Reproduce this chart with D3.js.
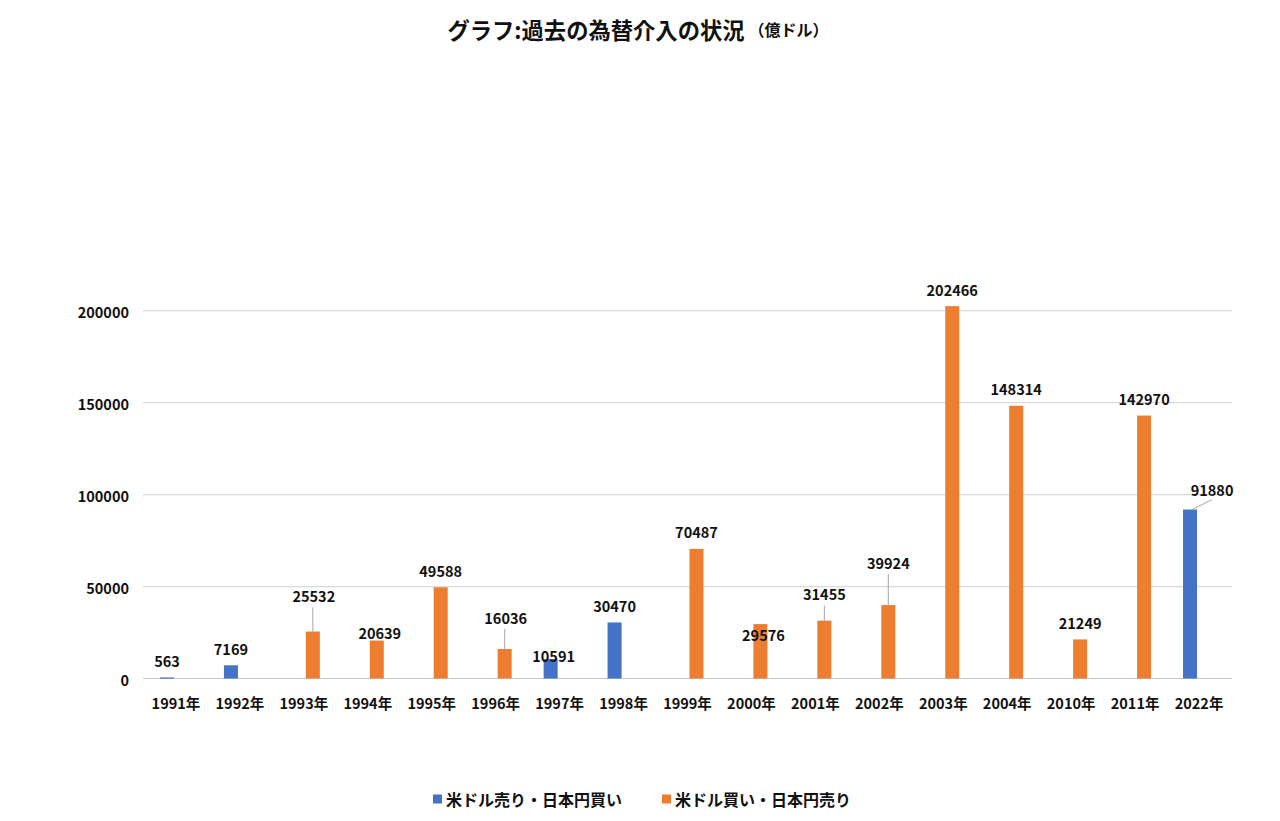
<!DOCTYPE html>
<html>
<head>
<meta charset="utf-8">
<script src="https://cdn.jsdelivr.net/npm/d3@7"></script>
<style>
  html, body { margin: 0; padding: 0; background: #fff; }
  svg text { font-family: "Noto Sans CJK JP", "Noto Sans", sans-serif; font-weight: 700; fill: #111; }
</style>
</head>
<body>
<div id="chart"></div>
<script>
// categories and series (億ドル)
var years = ["1991年", "1992年", "1993年", "1994年", "1995年", "1996年", "1997年", "1998年", "1999年",
  "2000年", "2001年", "2002年", "2003年", "2004年", "2010年", "2011年", "2022年"];
var sellUsd = [563, 7169, null, null, null, null, 10591, 30470, null,
  null, null, null, null, null, null, null, 91880];
var buyUsd = [null, null, 25532, 20639, 49588, 16036, null, null, 70487,
  29576, 31455, 39924, 202466, 148314, 21249, 142970, null];
var yTicks = [0, 50000, 100000, 150000, 200000];
var seriesNames = ["米ドル売り・日本円買い", "米ドル買い・日本円売り"];

(function () {
  var W = 1280, H = 821;
  var colors = { sell: "#4472C4", buy: "#ED7D31" };

  // manual label placement (Excel moved some labels by hand)
  var labelMove = {
    "1993年": { dx: 1, dy: -19, leader: true },
    "1994年": { dx: 3, dy: 9 },
    "1996年": { dx: 1, dy: -15, leader: true },
    "1997年": { dx: 3, dy: 13 },
    "2000年": { dx: 3, dy: 27 },
    "2001年": { dx: 0, dy: -10, leader: true },
    "2002年": { dx: 0, dy: -26, leader: true },
    "2022年": { dx: 22, dy: -3, leader: true }
  };

  var svg = d3.select("#chart").append("svg")
    .attr("width", W)
    .attr("height", H);

  var x0 = d3.scaleBand()
    .domain(years)
    .range([144, 1231])
    .paddingInner(0.5)
    .paddingOuter(0.25);

  var x1 = d3.scaleBand()
    .domain(["sell", "buy"])
    .range([0, x0.bandwidth()])
    .paddingInner(0.22);

  var y = d3.scaleLinear()
    .domain([0, 200000])
    .range([678.5, 310.7]);

  // title
  var title = svg.append("text")
    .attr("x", 638)
    .attr("y", 29)
    .attr("text-anchor", "middle")
    .attr("dominant-baseline", "central");
  title.append("tspan").style("font-size", "22.3px").text("グラフ:過去の為替介入の状況");
  title.append("tspan").style("font-size", "16px").attr("dx", 4).text("（億ドル）");

  // gridlines
  var xr = x0.range();
  svg.append("g")
    .selectAll("line")
    .data(yTicks)
    .enter()
    .append("line")
    .attr("x1", xr[0] - 1)
    .attr("x2", xr[1] + 1)
    .attr("y1", function (d) { return y(d); })
    .attr("y2", function (d) { return y(d); })
    .attr("stroke", function (d) { return d === 0 ? "#c8c8c8" : "#d9d9d9"; })
    .attr("stroke-width", 1.2);

  // y axis labels
  var yAxis = d3.axisLeft(y).tickValues(yTicks).tickSize(0).tickPadding(0)
    .tickFormat(d3.format("d"));
  var ya = svg.append("g")
    .attr("transform", "translate(129,0)")
    .call(yAxis);
  ya.select(".domain").remove();
  ya.selectAll("text")
    .attr("dy", null)
    .attr("dominant-baseline", "central")
    .style("font-size", "14.5px")
    .style("font-family", "\"Noto Sans CJK JP\", sans-serif")
    .style("fill", "#111");

  // x axis labels
  var xAxis = d3.axisBottom(x0).tickSize(0).tickPadding(0);
  var xa = svg.append("g")
    .attr("transform", "translate(0,702)")
    .call(xAxis);
  xa.select(".domain").remove();
  xa.selectAll("text")
    .attr("y", 0)
    .attr("dy", null)
    .attr("dominant-baseline", "central")
    .style("font-size", "14.5px")
    .style("font-family", "\"Noto Sans CJK JP\", sans-serif")
    .style("fill", "#111");

  // flatten into bar records
  var bars = [];
  years.forEach(function (yr, i) {
    if (sellUsd[i] != null) bars.push({ year: yr, key: "sell", value: sellUsd[i] });
    if (buyUsd[i] != null) bars.push({ year: yr, key: "buy", value: buyUsd[i] });
  });

  svg.append("g")
    .selectAll("rect")
    .data(bars)
    .enter()
    .append("rect")
    .attr("x", function (d) { return x0(d.year) + x1(d.key); })
    .attr("width", x1.bandwidth())
    .attr("y", function (d) { return y(d.value); })
    .attr("height", function (d) { return Math.max(1.2, y(0) - y(d.value)); })
    .attr("fill", function (d) { return colors[d.key]; });

  // data labels
  var lbl = svg.append("g");
  bars.forEach(function (d) {
    var cx = x0(d.year) + x1(d.key) + x1.bandwidth() / 2;
    var top = y(d.value);
    var m = labelMove[d.year] || { dx: 0, dy: 0 };
    var lx = cx + m.dx;
    var ly = top - 17 + m.dy;
    if (m.leader) {
      lbl.append("line")
        .attr("x1", m.dx > 5 ? cx + 2 : cx)
        .attr("y1", top)
        .attr("x2", m.dx > 5 ? lx : cx)
        .attr("y2", ly + (m.dx > 5 ? 10 : 12))
        .attr("stroke", "#a6a6a6")
        .attr("stroke-width", 1);
    }
    lbl.append("text")
      .attr("x", lx)
      .attr("y", ly)
      .attr("text-anchor", "middle")
      .attr("dominant-baseline", "central")
      .style("font-size", "14.5px")
      .text(d.value);
  });

  // legend
  var legendX = [433, 662];
  var lg = svg.append("g").attr("transform", "translate(0,799)");
  ["sell", "buy"].forEach(function (k, i) {
    lg.append("rect")
      .attr("x", legendX[i])
      .attr("y", -4.5)
      .attr("width", 9)
      .attr("height", 9)
      .attr("fill", colors[k]);
    lg.append("text")
      .attr("x", legendX[i] + 13)
      .attr("y", 0)
      .attr("dominant-baseline", "central")
      .style("font-size", "16px")
      .text(seriesNames[i]);
  });
})();
</script>
</body>
</html>
